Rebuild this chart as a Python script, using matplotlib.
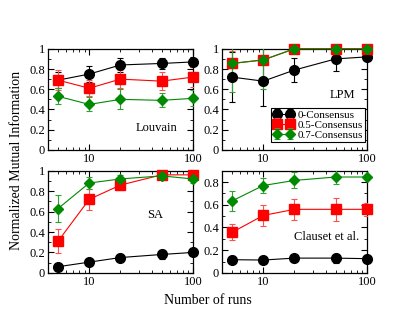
import matplotlib
matplotlib.use("Agg")
import matplotlib.pyplot as plt
from matplotlib.ticker import MultipleLocator, FixedLocator, NullFormatter

plt.rcParams["font.family"] = ["Liberation Serif", "DejaVu Serif"]

runs = [5, 10, 20, 50, 100]
series_names = ["0-Consensus", "0.5-Consensus", "0.7-Consensus"]

# Louvain
louvain_c0 = [0.69, 0.75, 0.84, 0.855, 0.87]
louvain_c0_err = [0.08, 0.08, 0.07, 0.05, 0.05]
louvain_c5 = [0.69, 0.61, 0.70, 0.68, 0.72]
louvain_c5_err = [0.10, 0.08, 0.09, 0.09, 0.10]
louvain_c7 = [0.53, 0.45, 0.50, 0.49, 0.51]
louvain_c7_err = [0.08, 0.07, 0.10, 0.07, 0.08]

# LPM
lpm_c0 = [0.72, 0.68, 0.79, 0.90, 0.92]
lpm_c0_err = [0.25, 0.25, 0.12, 0.12, 0.03]
lpm_c5 = [0.855, 0.89, 1.0, 1.0, 1.0]
lpm_c5_err = [0.12, 0.25, 0.01, 0.01, 0.01]
lpm_c7 = [0.855, 0.89, 1.0, 1.0, 1.0]
lpm_c7_err = [0.28, 0.29, 0.01, 0.01, 0.01]

# SA
sa_c0 = [0.06, 0.105, 0.15, 0.18, 0.20]
sa_c0_err = [0.02, 0.03, 0.03, 0.04, 0.03]
sa_c5 = [0.31, 0.72, 0.86, 0.96, 0.96]
sa_c5_err = [0.12, 0.10, 0.05, 0.02, 0.02]
sa_c7 = [0.63, 0.88, 0.92, 0.95, 0.92]
sa_c7_err = [0.13, 0.06, 0.04, 0.03, 0.04]

# Clauset et al.
cl_c0 = [0.116, 0.113, 0.13, 0.13, 0.125]
cl_c0_err = [0.03, 0.02, 0.03, 0.04, 0.03]
cl_c5 = [0.357, 0.506, 0.56, 0.56, 0.56]
cl_c5_err = [0.07, 0.09, 0.09, 0.10, 0.06]
cl_c7 = [0.634, 0.77, 0.815, 0.845, 0.845]
cl_c7_err = [0.09, 0.07, 0.07, 0.06, 0.02]

panels = [
    ("Louvain", [louvain_c0, louvain_c5, louvain_c7],
     [louvain_c0_err, louvain_c5_err, louvain_c7_err], 1.0, (0.75, 0.22)),
    ("LPM", [lpm_c0, lpm_c5, lpm_c7],
     [lpm_c0_err, lpm_c5_err, lpm_c7_err], 1.0, (0.83, 0.54)),
    ("SA", [sa_c0, sa_c5, sa_c7],
     [sa_c0_err, sa_c5_err, sa_c7_err], 1.0, (0.74, 0.57)),
    ("Clauset et al.", [cl_c0, cl_c5, cl_c7],
     [cl_c0_err, cl_c5_err, cl_c7_err], 0.9, (0.72, 0.35)),
]

colors = ["black", "#ff0000", "#008a00"]
ecolors = ["black", "#ff5050", "#30a030"]
markers = ["o", "s", "D"]
msizes = [7, 6.5, 5]

fig = plt.figure(figsize=(4.15, 3.21), dpi=100)
positions = [
    [0.1157, 0.533, 0.349, 0.315],
    [0.535, 0.533, 0.349, 0.315],
    [0.1157, 0.150, 0.349, 0.318],
    [0.535, 0.150, 0.349, 0.318],
]

for pos, (name, ys, errs, ymax, lab) in zip(positions, panels):
    ax = fig.add_axes(pos)
    handles = []
    for y, e, c, ec, m, ms, lbl in zip(ys, errs, colors, ecolors, markers, msizes, series_names):
        h = ax.errorbar(runs, y, yerr=e, color=c, ecolor=ec, marker=m, ms=ms,
                        lw=0.8, elinewidth=0.8, capsize=2.5, capthick=0.8,
                        label=lbl, zorder=3)
        # markers may overhang the frame, error bars are clipped
        h.lines[0].set_clip_on(False)
        handles.append(h)
    ax.set_xscale("log")
    ax.set_xlim(4.0, 100)
    ax.set_ylim(0, ymax)
    ax.xaxis.set_major_locator(FixedLocator([10, 100]))
    ax.xaxis.set_major_formatter(plt.FuncFormatter(lambda v, p: "%d" % v))
    ax.xaxis.set_minor_formatter(NullFormatter())
    ax.yaxis.set_major_locator(MultipleLocator(0.2))
    ax.yaxis.set_minor_locator(MultipleLocator(0.1))
    ax.yaxis.set_major_formatter(plt.FuncFormatter(lambda v, p: "0" if v == 0 else ("1" if abs(v - 1) < 1e-9 else "%g" % v)))
    ax.tick_params(which="both", direction="in", top=True, right=True,
                   labelsize=9, pad=2)
    ax.tick_params(which="major", length=4, width=0.8)
    ax.tick_params(which="minor", length=2, width=0.6)
    for s in ax.spines.values():
        s.set_linewidth(0.9)
    ax.text(lab[0], lab[1], name, transform=ax.transAxes, ha="center",
            va="center", fontsize=9)
    if name == "LPM":
        leg = ax.legend(handles=handles, loc="lower right", fontsize=8,
                        numpoints=2, handlelength=1.8, handletextpad=0.4,
                        borderpad=0.2, labelspacing=0.0, fancybox=False,
                        edgecolor="black", framealpha=1, borderaxespad=0,
                        bbox_to_anchor=(0.99, 0.08))
        leg.get_frame().set_linewidth(0.8)

fig.text(0.04, 0.5, "Normalized Mutual Information", rotation=90,
         ha="center", va="center", fontsize=10)
fig.text(0.5, 0.065, "Number of runs", ha="center", va="center", fontsize=10)

fig.savefig("out.png", dpi=100)
